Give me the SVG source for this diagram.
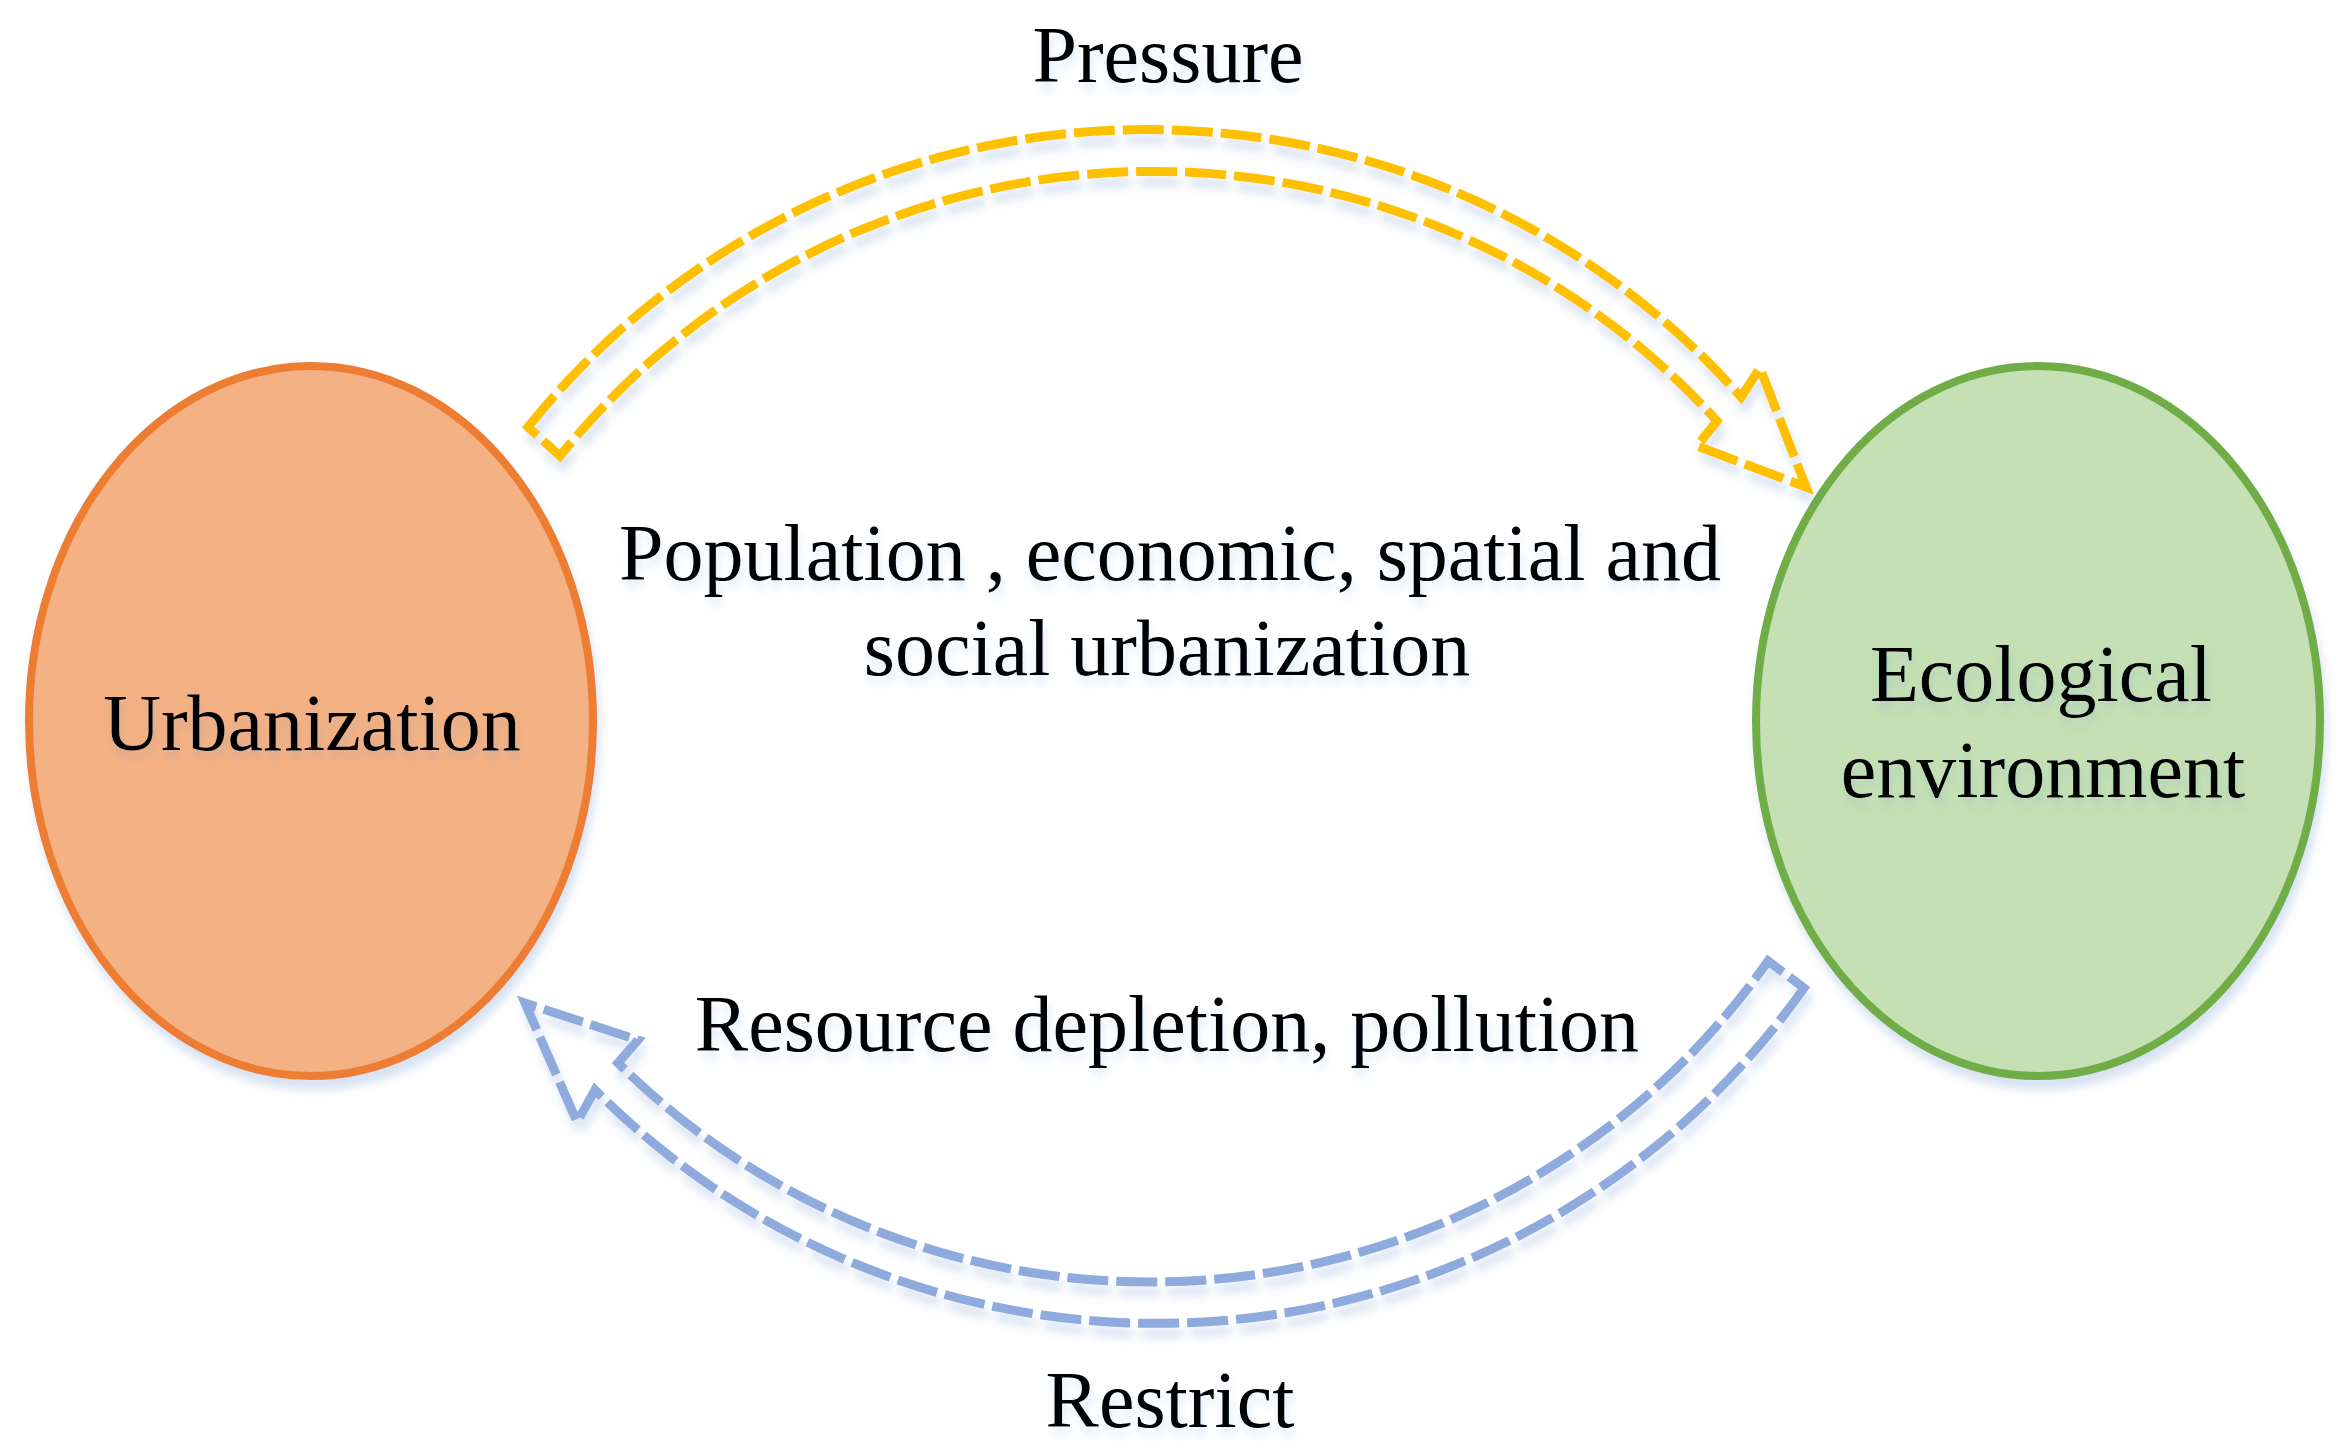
<svg xmlns="http://www.w3.org/2000/svg" width="2343" height="1456" viewBox="0 0 2343 1456">
<defs>
<filter id="sh" x="-20%" y="-20%" width="140%" height="140%">
<feDropShadow dx="3" dy="10" stdDeviation="5" flood-color="#4a7cc4" flood-opacity="0.22"/>
</filter>
<filter id="tsh" x="-10%" y="-30%" width="120%" height="160%">
<feDropShadow dx="2" dy="8" stdDeviation="4" flood-color="#5b8fd0" flood-opacity="0.18"/>
</filter>
</defs>
<style>
.lbl{font-family:"Liberation Serif","Times New Roman",serif;font-size:80px;fill:#000;text-anchor:middle;filter:url(#tsh)}
.node{stroke-width:8;filter:url(#sh)}
.arrow{fill:none;stroke-width:9;stroke-dasharray:41 8;stroke-linejoin:miter;stroke-miterlimit:10;filter:url(#sh)}
</style>
<rect width="2343" height="1456" fill="#ffffff"/>
<g id="urbanization">
<ellipse class="node" cx="311" cy="721" rx="282" ry="355" fill="#F4B183" stroke="#ED7D31"/>
<text class="lbl" x="312" y="750">Urbanization</text>
</g>
<g id="ecological-environment">
<ellipse class="node" cx="2038" cy="721" rx="282" ry="355" fill="#C5E0B4" stroke="#70AD47"/>
<text class="lbl" x="2041" y="701">Ecological</text>
<text class="lbl" x="2043" y="797">environment</text>
</g>
<g id="connectors">
<path class="arrow" stroke="#FFC000" d="M 528 427 A 793 793 0 0 1 1741 397 L 1760 368 L 1806 487 L 1697 446 L 1717 421 A 761 761 0 0 0 560 456 Z"/>
<path class="arrow" stroke="#8FAADC" d="M 1804 988 A 792.5 792.5 0 0 1 595 1090 L 577 1122 L 525 1003 L 638 1040 L 618 1063 A 755.5 755.5 0 0 0 1768 961 Z"/>
</g>
<g id="labels">
<text class="lbl" x="1168" y="82">Pressure</text>
<text class="lbl" x="1170" y="580">Population , economic, spatial and</text>
<text class="lbl" x="1167" y="675">social urbanization</text>
<text class="lbl" x="1167" y="1051">Resource depletion, pollution</text>
<text class="lbl" x="1170" y="1427">Restrict</text>
</g>
</svg>
